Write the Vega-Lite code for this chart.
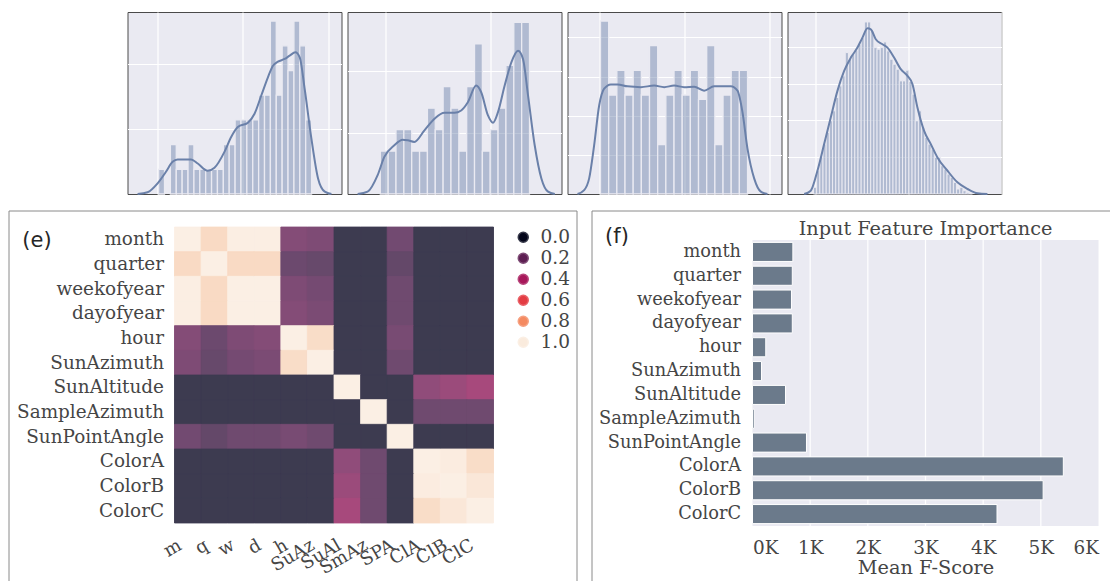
{
  "$schema": "https://vega.github.io/schema/vega-lite/v6.json",
  "padding": {"left": 7.5, "top": 11, "right": 0, "bottom": 0},
  "background": "white",
  "spacing": 10.5,
  "datasets": {
    "histA": [
      {"x": 0.12, "xe": 0.81, "y": 3.8}, {"x": 1.50, "xe": 2.19, "y": 7.6}, {"x": 2.19, "xe": 2.88, "y": 3.8},
      {"x": 2.88, "xe": 3.57, "y": 3.8}, {"x": 3.57, "xe": 4.26, "y": 7.6}, {"x": 4.26, "xe": 4.95, "y": 3.8},
      {"x": 4.95, "xe": 5.64, "y": 3.8}, {"x": 5.64, "xe": 6.33, "y": 3.8}, {"x": 6.33, "xe": 7.02, "y": 3.8},
      {"x": 7.02, "xe": 7.71, "y": 3.8}, {"x": 7.71, "xe": 8.40, "y": 7.6}, {"x": 8.40, "xe": 9.09, "y": 7.6},
      {"x": 9.09, "xe": 9.78, "y": 11.4}, {"x": 9.78, "xe": 10.47, "y": 11.4}, {"x": 10.47, "xe": 11.16, "y": 11.4},
      {"x": 11.16, "xe": 11.85, "y": 11.4}, {"x": 11.85, "xe": 12.54, "y": 15.2}, {"x": 12.54, "xe": 13.23, "y": 15.2},
      {"x": 13.23, "xe": 13.92, "y": 26.6}, {"x": 13.92, "xe": 14.61, "y": 15.2}, {"x": 14.61, "xe": 15.30, "y": 22.8},
      {"x": 15.30, "xe": 15.99, "y": 19.0}, {"x": 15.99, "xe": 16.68, "y": 26.6}, {"x": 16.68, "xe": 17.37, "y": 22.8},
      {"x": 17.37, "xe": 18.06, "y": 11.4}
    ],
    "kdeA": [
      {"x": -2.35, "y": 0}, {"x": -1.18, "y": 0.26}, {"x": 0, "y": 1.63}, {"x": 0.98, "y": 3.42},
      {"x": 1.76, "y": 4.95}, {"x": 2.35, "y": 5.31}, {"x": 3.92, "y": 5.31}, {"x": 4.71, "y": 4.69},
      {"x": 5.88, "y": 3.57}, {"x": 6.67, "y": 4.03}, {"x": 7.84, "y": 6.48}, {"x": 8.63, "y": 8.78},
      {"x": 9.41, "y": 10.31}, {"x": 10.59, "y": 10.97}, {"x": 11.37, "y": 12.35}, {"x": 12.16, "y": 15.15},
      {"x": 12.94, "y": 17.96}, {"x": 13.53, "y": 19.74}, {"x": 14.12, "y": 20.36}, {"x": 14.90, "y": 20.77},
      {"x": 15.49, "y": 21.28}, {"x": 16.16, "y": 21.79}, {"x": 16.67, "y": 21.02}, {"x": 17.25, "y": 16.17},
      {"x": 18.04, "y": 8.52}, {"x": 18.82, "y": 2.40}, {"x": 19.61, "y": 0.36}, {"x": 20.39, "y": 0}
    ],
    "histB": [
      {"x": -0.545, "xe": 0.208, "y": 7}, {"x": 0.208, "xe": 0.961, "y": 7}, {"x": 0.961, "xe": 1.714, "y": 10.5},
      {"x": 1.714, "xe": 2.467, "y": 10.5}, {"x": 2.467, "xe": 3.220, "y": 7}, {"x": 3.220, "xe": 3.973, "y": 7},
      {"x": 3.973, "xe": 4.726, "y": 14}, {"x": 4.726, "xe": 5.479, "y": 10.5}, {"x": 5.479, "xe": 6.232, "y": 17.5},
      {"x": 6.232, "xe": 6.985, "y": 14}, {"x": 6.985, "xe": 7.738, "y": 7}, {"x": 7.738, "xe": 8.491, "y": 17.5},
      {"x": 8.491, "xe": 9.244, "y": 24.5}, {"x": 9.244, "xe": 9.997, "y": 7}, {"x": 9.997, "xe": 10.750, "y": 10.5},
      {"x": 10.750, "xe": 11.503, "y": 14}, {"x": 11.503, "xe": 12.256, "y": 21}, {"x": 12.256, "xe": 13.009, "y": 28},
      {"x": 13.009, "xe": 13.762, "y": 28}
    ],
    "kdeB": [
      {"x": -2.72, "y": 0}, {"x": -1.76, "y": 0.38}, {"x": -0.80, "y": 3.08}, {"x": -0.16, "y": 6.05},
      {"x": 0.80, "y": 7.95}, {"x": 1.60, "y": 8.86}, {"x": 2.08, "y": 8.76}, {"x": 2.72, "y": 8.49},
      {"x": 3.69, "y": 10.38}, {"x": 4.65, "y": 12.27}, {"x": 5.61, "y": 13.24}, {"x": 6.57, "y": 13.24},
      {"x": 7.21, "y": 13.62}, {"x": 7.85, "y": 14.97}, {"x": 8.65, "y": 17.68}, {"x": 9.13, "y": 16.59},
      {"x": 9.78, "y": 12.81}, {"x": 10.26, "y": 11.62}, {"x": 10.74, "y": 13.35}, {"x": 11.38, "y": 17.68},
      {"x": 12.02, "y": 21.46}, {"x": 12.66, "y": 23.35}, {"x": 13.14, "y": 22.0}, {"x": 13.62, "y": 16.1},
      {"x": 14.26, "y": 7.95}, {"x": 14.90, "y": 2.54}, {"x": 15.54, "y": 0.38}, {"x": 16.19, "y": 0}
    ],
    "histC": [
      {"x": 0.079, "xe": 1.044, "y": 44.2}, {"x": 1.044, "xe": 2.009, "y": 25.3}, {"x": 2.009, "xe": 2.974, "y": 31.6},
      {"x": 2.974, "xe": 3.939, "y": 25.3}, {"x": 3.939, "xe": 4.904, "y": 31.6}, {"x": 4.904, "xe": 5.869, "y": 25.3},
      {"x": 5.869, "xe": 6.834, "y": 37.9}, {"x": 6.834, "xe": 7.799, "y": 12.6}, {"x": 7.799, "xe": 8.764, "y": 25.3},
      {"x": 8.764, "xe": 9.729, "y": 31.6}, {"x": 9.729, "xe": 10.694, "y": 25.3}, {"x": 10.694, "xe": 11.659, "y": 31.6},
      {"x": 11.659, "xe": 12.624, "y": 24.2}, {"x": 12.624, "xe": 13.589, "y": 37.9}, {"x": 13.589, "xe": 14.554, "y": 12.6},
      {"x": 14.554, "xe": 15.519, "y": 25.3}, {"x": 15.519, "xe": 16.484, "y": 31.6}, {"x": 16.484, "xe": 17.449, "y": 31.6}
    ],
    "kdeC": [
      {"x": -2.64, "y": 0}, {"x": -1.85, "y": 1.0}, {"x": -1.26, "y": 4.0}, {"x": -0.67, "y": 12.5},
      {"x": -0.08, "y": 22.6}, {"x": 0.51, "y": 26.9}, {"x": 1.30, "y": 28.0}, {"x": 2.09, "y": 28.0},
      {"x": 3.27, "y": 27.5}, {"x": 4.84, "y": 27.3}, {"x": 6.42, "y": 27.7}, {"x": 7.60, "y": 27.3},
      {"x": 8.78, "y": 27.7}, {"x": 9.96, "y": 27.3}, {"x": 11.14, "y": 27.4}, {"x": 12.32, "y": 26.4},
      {"x": 13.50, "y": 27.5}, {"x": 15.47, "y": 27.5}, {"x": 16.26, "y": 26.4}, {"x": 16.85, "y": 20.9},
      {"x": 17.44, "y": 11.6}, {"x": 18.23, "y": 4.0}, {"x": 19.02, "y": 0.6}, {"x": 19.80, "y": 0}
    ],
    "histD": [
      {"x": -0.179, "xe": 0.163, "y": 1.81}, {"x": 0.163, "xe": 0.505, "y": 6.33}, {"x": 0.505, "xe": 0.847, "y": 9.95},
      {"x": 0.847, "xe": 1.189, "y": 13.57}, {"x": 1.189, "xe": 1.531, "y": 16.74}, {"x": 1.531, "xe": 1.873, "y": 19.91},
      {"x": 1.873, "xe": 2.215, "y": 22.62}, {"x": 2.215, "xe": 2.557, "y": 26.24}, {"x": 2.557, "xe": 2.899, "y": 29.41},
      {"x": 2.899, "xe": 3.241, "y": 32.13}, {"x": 3.241, "xe": 3.583, "y": 38.46}, {"x": 3.583, "xe": 3.925, "y": 36.65},
      {"x": 3.925, "xe": 4.267, "y": 38.01}, {"x": 4.267, "xe": 4.609, "y": 39.10}, {"x": 4.609, "xe": 4.951, "y": 40.72},
      {"x": 4.951, "xe": 5.293, "y": 42.53}, {"x": 5.293, "xe": 5.635, "y": 46.79}, {"x": 5.635, "xe": 5.977, "y": 46.79},
      {"x": 5.977, "xe": 6.319, "y": 44.34}, {"x": 6.319, "xe": 6.661, "y": 39.82}, {"x": 6.661, "xe": 7.003, "y": 39.37},
      {"x": 7.003, "xe": 7.345, "y": 39.82}, {"x": 7.345, "xe": 7.687, "y": 41.36}, {"x": 7.687, "xe": 8.029, "y": 38.91},
      {"x": 8.029, "xe": 8.371, "y": 36.65}, {"x": 8.371, "xe": 8.713, "y": 35.29}, {"x": 8.713, "xe": 9.055, "y": 33.94},
      {"x": 9.055, "xe": 9.397, "y": 30.77}, {"x": 9.397, "xe": 9.739, "y": 30.77}, {"x": 9.739, "xe": 10.081, "y": 33.67},
      {"x": 10.081, "xe": 10.423, "y": 30.59}, {"x": 10.423, "xe": 10.765, "y": 27.15}, {"x": 10.765, "xe": 11.107, "y": 19.91},
      {"x": 11.107, "xe": 11.449, "y": 22.62}, {"x": 11.449, "xe": 11.791, "y": 18.10}, {"x": 11.791, "xe": 12.133, "y": 15.38},
      {"x": 12.133, "xe": 12.475, "y": 13.57}, {"x": 12.475, "xe": 12.817, "y": 12.22}, {"x": 12.817, "xe": 13.159, "y": 9.95},
      {"x": 13.159, "xe": 13.501, "y": 9.95}, {"x": 13.501, "xe": 13.843, "y": 7.69}, {"x": 13.843, "xe": 14.185, "y": 6.79},
      {"x": 14.185, "xe": 14.527, "y": 5.43}, {"x": 14.527, "xe": 14.869, "y": 4.52}, {"x": 14.869, "xe": 15.211, "y": 3.17},
      {"x": 15.211, "xe": 15.553, "y": 1.36}, {"x": 15.553, "xe": 15.895, "y": 1.81}, {"x": 15.895, "xe": 16.237, "y": 0.90},
      {"x": 16.237, "xe": 16.579, "y": 0.45}, {"x": 16.579, "xe": 16.921, "y": 0.18}
    ],
    "kdeD": [
      {"x": -1.18, "y": 0}, {"x": -0.47, "y": 0.90}, {"x": 0.25, "y": 6.33}, {"x": 0.97, "y": 13.57},
      {"x": 1.68, "y": 20.81}, {"x": 2.40, "y": 28.05}, {"x": 3.12, "y": 33.48}, {"x": 3.84, "y": 37.10},
      {"x": 4.55, "y": 39.82}, {"x": 5.09, "y": 42.53}, {"x": 5.63, "y": 45.07}, {"x": 5.99, "y": 44.80},
      {"x": 6.52, "y": 42.08}, {"x": 7.24, "y": 40.72}, {"x": 7.78, "y": 39.82}, {"x": 8.49, "y": 37.10},
      {"x": 9.21, "y": 33.94}, {"x": 9.93, "y": 32.13}, {"x": 10.47, "y": 29.86}, {"x": 11.00, "y": 23.53},
      {"x": 11.72, "y": 17.19}, {"x": 12.44, "y": 13.57}, {"x": 13.15, "y": 9.95}, {"x": 14.23, "y": 6.33},
      {"x": 15.30, "y": 3.17}, {"x": 16.38, "y": 1.36}, {"x": 17.46, "y": 0.18}, {"x": 18.53, "y": 0}
    ],
    "corr": [
      {"r": "month", "c": "m", "v": 1}, {"r": "month", "c": "q", "v": 0.96}, {"r": "month", "c": "w", "v": 0.999}, {"r": "month", "c": "d", "v": 0.999}, {"r": "month", "c": "h", "v": 0.22}, {"r": "month", "c": "SuAz", "v": 0.2}, {"r": "month", "c": "SuAl", "v": 0.02}, {"r": "month", "c": "SmAz", "v": 0.02}, {"r": "month", "c": "SPA", "v": 0.16}, {"r": "month", "c": "ClA", "v": 0.02}, {"r": "month", "c": "ClB", "v": 0.02}, {"r": "month", "c": "ClC", "v": 0.02},
      {"r": "quarter", "c": "m", "v": 0.96}, {"r": "quarter", "c": "q", "v": 1}, {"r": "quarter", "c": "w", "v": 0.96}, {"r": "quarter", "c": "d", "v": 0.96}, {"r": "quarter", "c": "h", "v": 0.14}, {"r": "quarter", "c": "SuAz", "v": 0.12}, {"r": "quarter", "c": "SuAl", "v": 0.02}, {"r": "quarter", "c": "SmAz", "v": 0.02}, {"r": "quarter", "c": "SPA", "v": 0.11}, {"r": "quarter", "c": "ClA", "v": 0.02}, {"r": "quarter", "c": "ClB", "v": 0.02}, {"r": "quarter", "c": "ClC", "v": 0.02},
      {"r": "weekofyear", "c": "m", "v": 0.999}, {"r": "weekofyear", "c": "q", "v": 0.96}, {"r": "weekofyear", "c": "w", "v": 1}, {"r": "weekofyear", "c": "d", "v": 1}, {"r": "weekofyear", "c": "h", "v": 0.2}, {"r": "weekofyear", "c": "SuAz", "v": 0.17}, {"r": "weekofyear", "c": "SuAl", "v": 0.02}, {"r": "weekofyear", "c": "SmAz", "v": 0.02}, {"r": "weekofyear", "c": "SPA", "v": 0.15}, {"r": "weekofyear", "c": "ClA", "v": 0.02}, {"r": "weekofyear", "c": "ClB", "v": 0.02}, {"r": "weekofyear", "c": "ClC", "v": 0.02},
      {"r": "dayofyear", "c": "m", "v": 0.999}, {"r": "dayofyear", "c": "q", "v": 0.96}, {"r": "dayofyear", "c": "w", "v": 1}, {"r": "dayofyear", "c": "d", "v": 1}, {"r": "dayofyear", "c": "h", "v": 0.22}, {"r": "dayofyear", "c": "SuAz", "v": 0.19}, {"r": "dayofyear", "c": "SuAl", "v": 0.02}, {"r": "dayofyear", "c": "SmAz", "v": 0.02}, {"r": "dayofyear", "c": "SPA", "v": 0.15}, {"r": "dayofyear", "c": "ClA", "v": 0.02}, {"r": "dayofyear", "c": "ClB", "v": 0.02}, {"r": "dayofyear", "c": "ClC", "v": 0.02},
      {"r": "hour", "c": "m", "v": 0.22}, {"r": "hour", "c": "q", "v": 0.14}, {"r": "hour", "c": "w", "v": 0.2}, {"r": "hour", "c": "d", "v": 0.22}, {"r": "hour", "c": "h", "v": 1}, {"r": "hour", "c": "SuAz", "v": 0.965}, {"r": "hour", "c": "SuAl", "v": 0.02}, {"r": "hour", "c": "SmAz", "v": 0.02}, {"r": "hour", "c": "SPA", "v": 0.18}, {"r": "hour", "c": "ClA", "v": 0.02}, {"r": "hour", "c": "ClB", "v": 0.02}, {"r": "hour", "c": "ClC", "v": 0.02},
      {"r": "SunAzimuth", "c": "m", "v": 0.2}, {"r": "SunAzimuth", "c": "q", "v": 0.12}, {"r": "SunAzimuth", "c": "w", "v": 0.17}, {"r": "SunAzimuth", "c": "d", "v": 0.19}, {"r": "SunAzimuth", "c": "h", "v": 0.965}, {"r": "SunAzimuth", "c": "SuAz", "v": 1}, {"r": "SunAzimuth", "c": "SuAl", "v": 0.02}, {"r": "SunAzimuth", "c": "SmAz", "v": 0.02}, {"r": "SunAzimuth", "c": "SPA", "v": 0.15}, {"r": "SunAzimuth", "c": "ClA", "v": 0.02}, {"r": "SunAzimuth", "c": "ClB", "v": 0.02}, {"r": "SunAzimuth", "c": "ClC", "v": 0.02},
      {"r": "SunAltitude", "c": "m", "v": 0.02}, {"r": "SunAltitude", "c": "q", "v": 0.02}, {"r": "SunAltitude", "c": "w", "v": 0.02}, {"r": "SunAltitude", "c": "d", "v": 0.02}, {"r": "SunAltitude", "c": "h", "v": 0.02}, {"r": "SunAltitude", "c": "SuAz", "v": 0.02}, {"r": "SunAltitude", "c": "SuAl", "v": 1}, {"r": "SunAltitude", "c": "SmAz", "v": 0.02}, {"r": "SunAltitude", "c": "SPA", "v": 0.02}, {"r": "SunAltitude", "c": "ClA", "v": 0.26}, {"r": "SunAltitude", "c": "ClB", "v": 0.3}, {"r": "SunAltitude", "c": "ClC", "v": 0.34},
      {"r": "SampleAzimuth", "c": "m", "v": 0.02}, {"r": "SampleAzimuth", "c": "q", "v": 0.02}, {"r": "SampleAzimuth", "c": "w", "v": 0.02}, {"r": "SampleAzimuth", "c": "d", "v": 0.02}, {"r": "SampleAzimuth", "c": "h", "v": 0.02}, {"r": "SampleAzimuth", "c": "SuAz", "v": 0.02}, {"r": "SampleAzimuth", "c": "SuAl", "v": 0.02}, {"r": "SampleAzimuth", "c": "SmAz", "v": 1}, {"r": "SampleAzimuth", "c": "SPA", "v": 0.02}, {"r": "SampleAzimuth", "c": "ClA", "v": 0.15}, {"r": "SampleAzimuth", "c": "ClB", "v": 0.15}, {"r": "SampleAzimuth", "c": "ClC", "v": 0.15},
      {"r": "SunPointAngle", "c": "m", "v": 0.16}, {"r": "SunPointAngle", "c": "q", "v": 0.11}, {"r": "SunPointAngle", "c": "w", "v": 0.15}, {"r": "SunPointAngle", "c": "d", "v": 0.15}, {"r": "SunPointAngle", "c": "h", "v": 0.18}, {"r": "SunPointAngle", "c": "SuAz", "v": 0.15}, {"r": "SunPointAngle", "c": "SuAl", "v": 0.02}, {"r": "SunPointAngle", "c": "SmAz", "v": 0.02}, {"r": "SunPointAngle", "c": "SPA", "v": 1}, {"r": "SunPointAngle", "c": "ClA", "v": 0.02}, {"r": "SunPointAngle", "c": "ClB", "v": 0.02}, {"r": "SunPointAngle", "c": "ClC", "v": 0.02},
      {"r": "ColorA", "c": "m", "v": 0.02}, {"r": "ColorA", "c": "q", "v": 0.02}, {"r": "ColorA", "c": "w", "v": 0.02}, {"r": "ColorA", "c": "d", "v": 0.02}, {"r": "ColorA", "c": "h", "v": 0.02}, {"r": "ColorA", "c": "SuAz", "v": 0.02}, {"r": "ColorA", "c": "SuAl", "v": 0.26}, {"r": "ColorA", "c": "SmAz", "v": 0.15}, {"r": "ColorA", "c": "SPA", "v": 0.02}, {"r": "ColorA", "c": "ClA", "v": 1}, {"r": "ColorA", "c": "ClB", "v": 0.995}, {"r": "ColorA", "c": "ClC", "v": 0.965},
      {"r": "ColorB", "c": "m", "v": 0.02}, {"r": "ColorB", "c": "q", "v": 0.02}, {"r": "ColorB", "c": "w", "v": 0.02}, {"r": "ColorB", "c": "d", "v": 0.02}, {"r": "ColorB", "c": "h", "v": 0.02}, {"r": "ColorB", "c": "SuAz", "v": 0.02}, {"r": "ColorB", "c": "SuAl", "v": 0.3}, {"r": "ColorB", "c": "SmAz", "v": 0.15}, {"r": "ColorB", "c": "SPA", "v": 0.02}, {"r": "ColorB", "c": "ClA", "v": 0.995}, {"r": "ColorB", "c": "ClB", "v": 1}, {"r": "ColorB", "c": "ClC", "v": 0.985},
      {"r": "ColorC", "c": "m", "v": 0.02}, {"r": "ColorC", "c": "q", "v": 0.02}, {"r": "ColorC", "c": "w", "v": 0.02}, {"r": "ColorC", "c": "d", "v": 0.02}, {"r": "ColorC", "c": "h", "v": 0.02}, {"r": "ColorC", "c": "SuAz", "v": 0.02}, {"r": "ColorC", "c": "SuAl", "v": 0.34}, {"r": "ColorC", "c": "SmAz", "v": 0.15}, {"r": "ColorC", "c": "SPA", "v": 0.02}, {"r": "ColorC", "c": "ClA", "v": 0.965}, {"r": "ColorC", "c": "ClB", "v": 0.985}, {"r": "ColorC", "c": "ClC", "v": 1}
    ],
    "importance": [
      {"feature": "month", "score": 700}, {"feature": "quarter", "score": 690}, {"feature": "weekofyear", "score": 676},
      {"feature": "dayofyear", "score": 690}, {"feature": "hour", "score": 230}, {"feature": "SunAzimuth", "score": 156},
      {"feature": "SunAltitude", "score": 572}, {"feature": "SampleAzimuth", "score": 30}, {"feature": "SunPointAngle", "score": 936},
      {"feature": "ColorA", "score": 5390}, {"feature": "ColorB", "score": 5040}, {"feature": "ColorC", "score": 4240}
    ],
    "ticks": [{"k": 1000}, {"k": 2000}, {"k": 3000}, {"k": 4000}, {"k": 5000}]
  },
  "vconcat": [
    {
      "spacing": 6,
      "bounds": "flush",
      "hconcat": [
        {"width": 113, "height": 182, "data": {"values": []}, "mark": {"type": "point", "opacity": 0}},
        {
          "width": 214, "height": 182,
          "view": {"fill": "#eaeaf2", "stroke": "#4a4a4a", "strokeWidth": 1},
          "encoding": {
            "x": {"field": "x", "type": "quantitative", "scale": {"domain": [-3.53, 21.57], "nice": false, "zero": false},
                  "axis": {"values": [0, 10, 20], "grid": true, "labels": false, "ticks": false, "domain": false, "title": null, "gridColor": "white", "gridWidth": 1.2}},
            "y": {"field": "y", "type": "quantitative", "scale": {"domain": [0, 28.0], "nice": false, "zero": false},
                  "axis": {"values": [10, 20], "grid": true, "labels": false, "ticks": false, "domain": false, "title": null, "gridColor": "white", "gridWidth": 1.2}}
          },
          "layer": [
            {"data": {"name": "histA"}, "mark": {"type": "rect", "fill": "#6a80a9", "fillOpacity": 0.45, "stroke": "#eaeaf2", "strokeWidth": 1.3},
             "encoding": {"x2": {"field": "xe"}, "y2": {"datum": 0}}},
            {"data": {"name": "kdeA"}, "mark": {"type": "line", "color": "#6a80a9", "strokeWidth": 2, "interpolate": "monotone"}},
            {"data": {"values": [{}]}, "mark": {"type": "text", "text": "(a)", "align": "left", "baseline": "middle", "font": "DejaVu Sans", "fontSize": 21, "color": "#262626"},
             "encoding": {"x": {"datum": -2.98}, "y": {"datum": 23.4}}}
          ]
        },
        {
          "width": 214, "height": 182,
          "view": {"fill": "#eaeaf2", "stroke": "#4a4a4a", "strokeWidth": 1},
          "encoding": {
            "x": {"field": "x", "type": "quantitative", "scale": {"domain": [-3.69, 16.83], "nice": false, "zero": false},
                  "axis": {"values": [0, 10], "grid": true, "labels": false, "ticks": false, "domain": false, "title": null, "gridColor": "white", "gridWidth": 1.2}},
            "y": {"field": "y", "type": "quantitative", "scale": {"domain": [0, 29.68], "nice": false, "zero": false},
                  "axis": {"values": [10, 20], "grid": true, "labels": false, "ticks": false, "domain": false, "title": null, "gridColor": "white", "gridWidth": 1.2}}
          },
          "layer": [
            {"data": {"name": "histB"}, "mark": {"type": "rect", "fill": "#6a80a9", "fillOpacity": 0.45, "stroke": "#eaeaf2", "strokeWidth": 1.3},
             "encoding": {"x2": {"field": "xe"}, "y2": {"datum": 0}}},
            {"data": {"name": "kdeB"}, "mark": {"type": "line", "color": "#6a80a9", "strokeWidth": 2, "interpolate": "monotone"}},
            {"data": {"values": [{}]}, "mark": {"type": "text", "text": "(b)", "align": "left", "baseline": "middle", "font": "DejaVu Sans", "fontSize": 21, "color": "#262626"},
             "encoding": {"x": {"datum": -3.21}, "y": {"datum": 24.8}}}
          ]
        },
        {
          "width": 214, "height": 182,
          "view": {"fill": "#eaeaf2", "stroke": "#4a4a4a", "strokeWidth": 1},
          "encoding": {
            "x": {"field": "x", "type": "quantitative", "scale": {"domain": [-3.82, 21.46], "nice": false, "zero": false},
                  "axis": {"values": [0, 10, 20], "grid": true, "labels": false, "ticks": false, "domain": false, "title": null, "gridColor": "white", "gridWidth": 1.2}},
            "y": {"field": "y", "type": "quantitative", "scale": {"domain": [0, 46.5], "nice": false, "zero": false},
                  "axis": {"values": [10, 20, 30, 40], "grid": true, "labels": false, "ticks": false, "domain": false, "title": null, "gridColor": "white", "gridWidth": 1.2}}
          },
          "layer": [
            {"data": {"name": "histC"}, "mark": {"type": "rect", "fill": "#6a80a9", "fillOpacity": 0.45, "stroke": "#eaeaf2", "strokeWidth": 1.3},
             "encoding": {"x2": {"field": "xe"}, "y2": {"datum": 0}}},
            {"data": {"name": "kdeC"}, "mark": {"type": "line", "color": "#6a80a9", "strokeWidth": 2, "interpolate": "monotone"}},
            {"data": {"values": [{}]}, "mark": {"type": "text", "text": "(c)", "align": "left", "baseline": "middle", "font": "DejaVu Sans", "fontSize": 21, "color": "#262626"},
             "encoding": {"x": {"datum": -3.23}, "y": {"datum": 38.9}}}
          ]
        },
        {
          "width": 214, "height": 182,
          "view": {"fill": "#eaeaf2", "stroke": "#4a4a4a", "strokeWidth": 1},
          "encoding": {
            "x": {"field": "x", "type": "quantitative", "scale": {"domain": [-2.97, 20.04], "nice": false, "zero": false},
                  "axis": {"values": [0, 10, 20], "grid": true, "labels": false, "ticks": false, "domain": false, "title": null, "gridColor": "white", "gridWidth": 1.2}},
            "y": {"field": "y", "type": "quantitative", "scale": {"domain": [0, 49.5], "nice": false, "zero": false},
                  "axis": {"values": [10, 20, 30, 40], "grid": true, "labels": false, "ticks": false, "domain": false, "title": null, "gridColor": "white", "gridWidth": 1.2}}
          },
          "layer": [
            {"data": {"name": "histD"}, "mark": {"type": "rect", "fill": "#6a80a9", "fillOpacity": 0.45, "stroke": "#eaeaf2", "strokeWidth": 1},
             "encoding": {"x2": {"field": "xe"}, "y2": {"datum": 0}}},
            {"data": {"name": "kdeD"}, "mark": {"type": "line", "color": "#6a80a9", "strokeWidth": 2, "interpolate": "monotone"}},
            {"data": {"values": [{}]}, "mark": {"type": "text", "text": "(d)", "align": "left", "baseline": "middle", "font": "DejaVu Sans", "fontSize": 21, "color": "#262626"},
             "encoding": {"x": {"datum": -2.40}, "y": {"datum": 41.4}}}
          ]
        }
      ]
    },
    {
      "spacing": 15,
      "bounds": "flush",
      "hconcat": [
        {
          "width": 568, "height": 371,
          "view": {"fill": "white", "stroke": "#8a8a8a", "strokeWidth": 1},
          "data": {"name": "corr"},
          "encoding": {
            "x": {"field": "c", "type": "nominal",
                  "sort": ["m", "q", "w", "d", "h", "SuAz", "SuAl", "SmAz", "SPA", "ClA", "ClB", "ClC"],
                  "scale": {"range": [166, 485], "paddingInner": 0, "paddingOuter": 0},
                  "axis": {"offset": -58.5, "labelAngle": -30, "labelAlign": "right", "labelBaseline": "top", "labelPadding": 13, "labelOffset": -12, "ticks": false, "domain": false, "title": null, "labelFontSize": 18}},
            "y": {"field": "r", "type": "nominal",
                  "sort": ["month", "quarter", "weekofyear", "dayofyear", "hour", "SunAzimuth", "SunAltitude", "SampleAzimuth", "SunPointAngle", "ColorA", "ColorB", "ColorC"],
                  "scale": {"range": [16.5, 312.5], "paddingInner": 0, "paddingOuter": 0},
                  "axis": {"offset": -166, "ticks": false, "domain": false, "labelPadding": 11, "labelFontSize": 18.4,
                           "title": "(e)", "titleAngle": 0, "titleAlign": "center", "titleBaseline": "middle", "titleX": -138, "titleY": 29.5,
                           "titleFont": "DejaVu Sans", "titleFontSize": 21, "titleColor": "#262626", "titleFontWeight": "normal"}}
          },
          "layer": [
            {
              "mark": {"type": "rect"},
              "encoding": {
                "color": {"field": "v", "type": "quantitative",
                          "scale": {"domain": [0, 0.083, 0.25, 0.417, 0.583, 0.75, 0.917, 1],
                                    "range": ["#03051a", "#35193e", "#701f57", "#ad1759", "#e13342", "#f37651", "#f6b48f", "#faebdd"]},
                          "legend": {"type": "gradient", "orient": "none", "legendX": 505.5, "legendY": 216, "direction": "vertical", "title": null,
                                     "gradientLength": 296, "gradientThickness": 16, "gradientStrokeWidth": 0,
                                     "values": [0.0001, 0.2, 0.4, 0.6, 0.8, 0.9999], "format": ".1f",
                                     "labelFontSize": 18.5, "labelOffset": 8, "labelFont": "DejaVu Serif", "labelColor": "#454545", "labelBaseline": "middle"}}
              }
            },
            {
              "mark": {"type": "rect", "strokeWidth": 0.8},
              "encoding": {
                "fill": {"field": "v", "type": "quantitative", "legend": null,
                         "scale": {"domain": [0, 0.083, 0.25, 0.417, 0.583, 0.75, 0.917, 1],
                                   "range": ["#353748", "#5d4765", "#8d4c79", "#bd457a", "#e75c68", "#f59174", "#f8c3a5", "#fbefe4"]}},
                "stroke": {"field": "v", "type": "quantitative", "legend": null,
                           "scale": {"domain": [0, 0.083, 0.25, 0.417, 0.583, 0.75, 0.917, 1],
                                     "range": ["#353748", "#5d4765", "#8d4c79", "#bd457a", "#e75c68", "#f59174", "#f8c3a5", "#fbefe4"]}}
              }
            }
          ]
        },
        {
          "width": 519, "height": 371,
          "view": {"fill": "white", "stroke": "#8a8a8a", "strokeWidth": 1},
          "layer": [
            {
              "data": {"values": [{}]},
              "mark": {"type": "rect", "fill": "#eaeaf2"},
              "encoding": {
                "x": {"datum": 0, "type": "quantitative", "scale": {"domain": [0, 6000], "range": [161, 507], "nice": false},
                      "axis": {"values": [0, 1000, 2000, 3000, 4000, 5000, 6000], "labelExpr": "(datum.value / 1000) + 'K'", "offset": -55.5, "grid": false, "ticks": false, "domain": false, "labelPadding": 12, "labelFontSize": 18.4, "title": "Mean F-Score", "titleFontSize": 19.3, "titlePadding": 2}},
                "x2": {"datum": 6000},
                "y": {"datum": 0, "type": "quantitative", "scale": {"domain": [0, 1], "range": [29.5, 315.5], "nice": false}, "axis": null},
                "y2": {"datum": 1}
              }
            },
            {
              "data": {"name": "ticks"},
              "mark": {"type": "rule", "color": "white", "strokeWidth": 1.2},
              "encoding": {
                "x": {"field": "k", "type": "quantitative",
                      "axis": {"values": [0, 1000, 2000, 3000, 4000, 5000, 6000], "labelExpr": "(datum.value / 1000) + 'K'", "offset": -55.5, "grid": false, "ticks": false, "domain": false, "labelPadding": 12, "labelFontSize": 18.4, "title": "Mean F-Score", "titleFontSize": 19.3, "titlePadding": 2}},
                "y": {"datum": 0, "type": "quantitative", "scale": {"domain": [0, 1], "range": [29.5, 315.5], "nice": false}, "axis": null},
                "y2": {"datum": 1}
              }
            },
            {
              "data": {"values": [{}]},
              "mark": {"type": "text", "text": "Input Feature Importance", "align": "center", "baseline": "middle", "font": "DejaVu Serif", "fontSize": 19.3, "color": "#454545"},
              "encoding": {
                "x": {"datum": 3000, "type": "quantitative",
                      "axis": {"values": [0, 1000, 2000, 3000, 4000, 5000, 6000], "labelExpr": "(datum.value / 1000) + 'K'", "offset": -55.5, "grid": false, "ticks": false, "domain": false, "labelPadding": 12, "labelFontSize": 18.4, "title": "Mean F-Score", "titleFontSize": 19.3, "titlePadding": 2}},
                "y": {"datum": -0.04, "type": "quantitative", "scale": {"domain": [0, 1], "range": [29.5, 315.5], "nice": false}, "axis": null}
              }
            },
            {
              "data": {"name": "importance"},
              "mark": {"type": "bar", "height": {"band": 0.8}, "color": "#6b7a8b", "stroke": "white", "strokeWidth": 1},
              "encoding": {
                "x": {"field": "score", "type": "quantitative",
                      "axis": {"values": [0, 1000, 2000, 3000, 4000, 5000, 6000], "labelExpr": "(datum.value / 1000) + 'K'", "offset": -55.5, "grid": false, "ticks": false, "domain": false, "labelPadding": 12, "labelFontSize": 18.4, "title": "Mean F-Score", "titleFontSize": 19.3, "titlePadding": 2}},
                "y": {"field": "feature", "type": "nominal",
                      "sort": ["month", "quarter", "weekofyear", "dayofyear", "hour", "SunAzimuth", "SunAltitude", "SampleAzimuth", "SunPointAngle", "ColorA", "ColorB", "ColorC"],
                      "scale": {"range": [29.5, 315.5], "paddingInner": 0, "paddingOuter": 0},
                      "axis": {"orient": "left", "offset": -161, "ticks": false, "domain": false, "labelPadding": 12, "labelFontSize": 17.8,
                               "title": "(f)", "titleAngle": 0, "titleAlign": "center", "titleBaseline": "middle", "titleX": -136, "titleY": 26,
                               "titleFont": "DejaVu Sans", "titleFontSize": 21, "titleColor": "#262626", "titleFontWeight": "normal"}}
              }
            }
          ],
          "resolve": {"scale": {"y": "independent"}}
        }
      ]
    }
  ],
  "config": {
    "font": "DejaVu Serif",
    "view": {"stroke": null},
    "axis": {"labelFont": "DejaVu Serif", "labelColor": "#454545", "titleFont": "DejaVu Serif", "titleColor": "#454545", "titleFontWeight": "normal"}
  }
}
